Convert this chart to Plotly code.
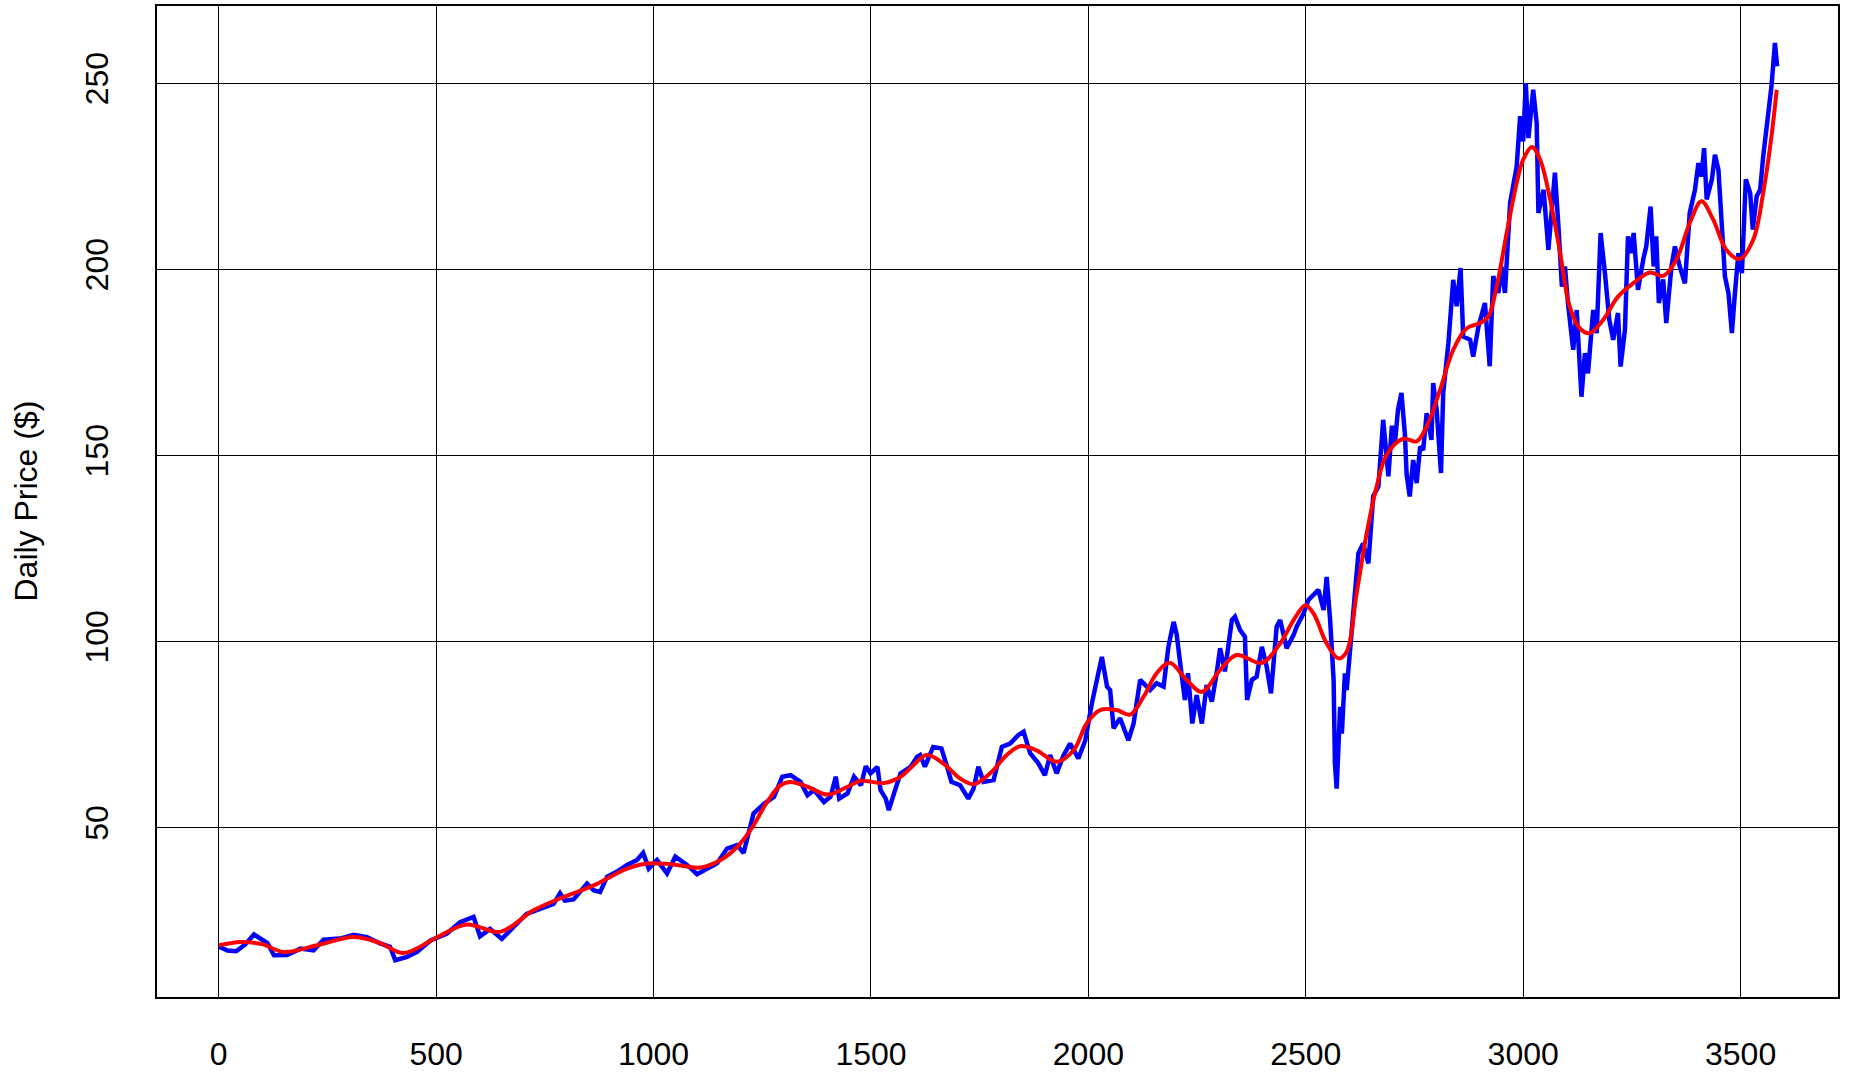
import plotly.graph_objects as go

# Daily price (blue)
price_day = [1, 20, 40, 60, 81, 100, 112, 127, 157, 188, 218, 241, 279, 310, 341, 371, 394, 406, 433, 456,
             487, 524, 555, 586, 601, 624, 651, 678, 708, 739, 770, 785, 796, 816, 847, 862, 877, 893, 916, 939,
             962, 976, 989, 1008, 1031, 1050, 1077, 1100, 1123, 1146, 1169, 1192, 1207, 1230, 1254, 1277, 1296,
             1315, 1338, 1354, 1369, 1392, 1407, 1419, 1427, 1446, 1461, 1477, 1488, 1499, 1515, 1522, 1534,
             1541, 1553, 1568, 1591, 1606, 1613, 1624, 1643, 1662, 1674, 1685, 1705, 1724, 1736, 1747, 1759,
             1782, 1801, 1820, 1839, 1851, 1866, 1885, 1900, 1912, 1927, 1943, 1958, 1977, 1993, 2008, 2031,
             2043, 2050, 2058, 2073, 2092, 2104, 2119, 2142, 2157, 2173, 2184, 2196, 2203, 2214, 2222, 2229,
             2239, 2249, 2261, 2272, 2284, 2295, 2303, 2314, 2330, 2337, 2349, 2360, 2365, 2376, 2387, 2399,
             2410, 2420, 2433, 2441, 2456, 2472, 2479, 2495, 2506, 2529, 2541, 2548, 2556, 2564, 2567, 2571,
             2579, 2583, 2590, 2594, 2606, 2613, 2621, 2632, 2644, 2655, 2667, 2678, 2690, 2698, 2705, 2712,
             2720, 2728, 2732, 2739, 2747, 2755, 2763, 2770, 2778, 2789, 2793, 2801, 2811, 2816, 2828, 2839,
             2847, 2856, 2862, 2878, 2885, 2897, 2912, 2923, 2931, 2943, 2950, 2958, 2970, 2977, 2985, 2993,
             3000, 3006, 3012, 3023, 3031, 3035, 3047, 3058, 3066, 3073, 3081, 3089, 3096, 3103, 3115, 3123,
             3134, 3142, 3149, 3161, 3169, 3178, 3188, 3198, 3207, 3218, 3224, 3234, 3241, 3249, 3254, 3264,
             3276, 3283, 3293, 3300, 3306, 3312, 3322, 3329, 3341, 3349, 3360, 3372, 3383, 3395, 3403, 3410,
             3416, 3422, 3434, 3441, 3449, 3457, 3464, 3472, 3480, 3487, 3495, 3503, 3512, 3522, 3528, 3537,
             3545, 3552, 3564, 3571, 3579, 3584]
price_val = [18.0, 17.0, 16.8, 18.5, 21.3, 19.8, 19.0, 15.7, 15.8, 17.5, 17.0, 19.9, 20.2, 21.2, 20.6, 18.9, 18.0, 14.4, 15.3, 16.6,
             19.7, 21.5, 24.6, 26.0, 20.8, 22.8, 20.1, 23.3, 26.8, 28.2, 29.5, 32.4, 30.4, 30.7, 35.0, 33.2, 32.7, 36.8, 38.2, 40.0,
             41.3, 43.2, 39.0, 41.3, 37.7, 42.2, 40.0, 37.5, 39.0, 40.4, 44.4, 45.3, 43.2, 53.8, 56.4, 58.3, 63.7,
             64.1, 62.3, 58.7, 60.1, 56.9, 58.3, 63.7, 57.8, 59.2, 63.7, 61.4, 66.5, 64.6, 66.3, 60.1, 57.8,
             54.7, 59.2, 64.6, 66.3, 69.0, 69.5, 66.4, 71.7, 71.3, 66.8, 62.3, 61.4, 57.8, 60.5, 66.4, 62.3,
             62.8, 71.7, 72.6, 74.9, 75.8, 70.0, 67.3, 64.1, 69.5, 64.6, 69.5, 72.6, 68.6, 73.5, 83.4, 95.9,
             87.9, 87.0, 76.7, 79.4, 73.5, 78.0, 89.7, 87.0, 88.8, 87.9, 98.6, 105.3, 102.0, 91.5, 84.3, 91.5,
             78.0, 85.6, 78.0, 88.3, 83.9, 91.5, 98.2, 92.0, 105.8, 106.7, 103.1, 101.3, 84.3, 89.7, 90.6, 98.6,
             93.3, 86.1, 104.0, 105.8, 98.2, 101.8, 104.0, 107.6, 111.2, 113.9, 108.5, 117.4, 105.8, 89.7, 67.3, 60.5,
             82.5, 75.3, 91.5, 87.0, 105.8, 113.0, 123.7, 126.4, 121.0, 139.0, 141.7, 159.6, 144.4, 158.0, 153.3, 162.3,
             166.8, 155.6, 144.8, 139.0, 148.8, 142.6, 152.4, 151.5, 161.4, 154.2, 169.5, 162.3, 145.3, 166.8, 180.2, 197.2,
             190.1, 200.4, 182.0, 181.1, 176.6, 184.6, 191.0, 174.0, 198.2, 193.7, 200.8, 193.7, 217.9, 222.3, 227.7, 241.2,
             234.4, 250.1, 235.3, 248.3, 239.4, 215.2, 221.4, 205.3, 216.1, 226.0, 211.7, 195.4, 200.8, 190.9, 178.4, 189.1,
             165.8, 177.5, 172.1, 189.1, 182.9, 209.8, 199.0, 186.5, 181.1, 188.3, 173.9, 183.8, 208.9, 204.4, 209.8, 194.5,
             202.6, 206.2, 216.9, 200.8, 208.9, 191.0, 197.3, 185.6, 200.8, 206.2, 200.8, 196.3, 215.2, 221.4, 228.6, 225.0,
             232.6, 218.8, 224.2, 230.8, 226.8, 209.8, 198.1, 193.7, 182.9, 193.7, 204.4, 199.0, 224.2, 220.6, 210.7, 219.7,
             221.4, 230.4, 242.0, 249.2, 260.9, 254.6]

# Smoothed trend (red)
trend_day = [1, 50, 100, 149, 226, 310, 371, 425, 501, 570, 647, 724, 785, 862, 939, 985, 1039, 1108, 1154, 1192,
             1227, 1261, 1292, 1315, 1354, 1400, 1446, 1476, 1530, 1568, 1590, 1628, 1666, 1705, 1736, 1774, 1812,
             1843, 1881, 1927, 1966, 1996, 2027, 2065, 2096, 2127, 2157, 2187, 2226, 2261, 2303, 2341, 2399, 2441,
             2472, 2499, 2518, 2548, 2575, 2594, 2617, 2640, 2663, 2686, 2724, 2755, 2778, 2809, 2839, 2870, 2901,
             2920, 2939, 2962, 2985, 3000, 3020, 3039, 3062, 3085, 3107, 3130, 3153, 3184, 3218, 3253, 3291, 3322,
             3352, 3383, 3410, 3437, 3467, 3498, 3529, 3552, 3571, 3583]
trend_val = [18.4, 19.3, 18.7, 16.6, 18.4, 20.6, 19.0, 16.3, 20.5, 24.0, 22.0, 27.8, 31.0, 34.5, 39.0, 40.4, 40.2, 39.3, 41.3, 44.8,
             50.1, 56.9, 61.4, 62.3, 61.0, 58.9, 61.0, 62.6, 62.0, 63.7, 65.9, 69.5, 67.3, 63.2, 61.7, 64.6, 69.5,
             71.9, 70.8, 67.7, 70.8, 78.0, 81.6, 81.6, 80.4, 85.2, 91.5, 94.3, 89.7, 86.5, 92.4, 96.4, 94.3, 99.5,
             105.8, 109.8, 107.5, 99.5, 95.5, 97.3, 113.0, 129.1, 141.7, 150.2, 154.5, 153.8, 157.8, 167.7, 178.4, 184.2, 185.6,
             187.4, 195.4, 209.8, 223.2, 229.5, 232.9, 229.5, 218.8, 204.4, 190.0, 184.2, 182.9, 186.5, 192.7, 196.3, 199.2, 198.3,
             202.6, 212.5, 218.3, 213.4, 205.3, 202.8, 208.0, 220.6, 235.8, 248.3]

x_ticks = [0, 500, 1000, 1500, 2000, 2500, 3000, 3500]
y_ticks = [50, 100, 150, 200, 250]

FONT = "Liberation Sans, Arial, Helvetica, sans-serif"

fig = go.Figure()
fig.add_trace(go.Scatter(x=price_day, y=price_val, mode="lines",
                         line=dict(color="#0000FF", width=4.5), showlegend=False))
fig.add_trace(go.Scatter(x=trend_day, y=trend_val, mode="lines",
                         line=dict(color="#FF0000", width=4, shape="spline", smoothing=1.0),
                         showlegend=False))

axis_common = dict(showgrid=True, gridcolor="black", gridwidth=1.3, zeroline=False,
                   showline=True, linecolor="black", linewidth=1.5, mirror=True,
                   ticks="", tickfont=dict(family=FONT, size=32, color="black"))

fig.update_xaxes(range=[-142, 3724], tickvals=x_ticks, ticktext=[str(v) for v in x_ticks],
                 ticklabelstandoff=28, **axis_common)
fig.update_yaxes(range=[4.5, 270.8], tickvals=y_ticks, ticktext=[str(v) for v in y_ticks],
                 tickangle=-90, ticklabelstandoff=34, **axis_common)

fig.add_annotation(text="Daily Price ($)", textangle=-90, xref="paper", yref="paper",
                   x=(25 - 157) / 1681, y=0.5, xanchor="center", yanchor="middle",
                   showarrow=False, font=dict(family=FONT, size=32, color="black"))

fig.update_layout(width=1851, height=1072, plot_bgcolor="white", paper_bgcolor="white",
                  margin=dict(l=157, r=13, t=6, b=75, autoexpand=False))

fig.write_html("out.html", config={"displayModeBar": False},
               post_script="document.body.style.margin='0';document.body.style.overflow='hidden';")
